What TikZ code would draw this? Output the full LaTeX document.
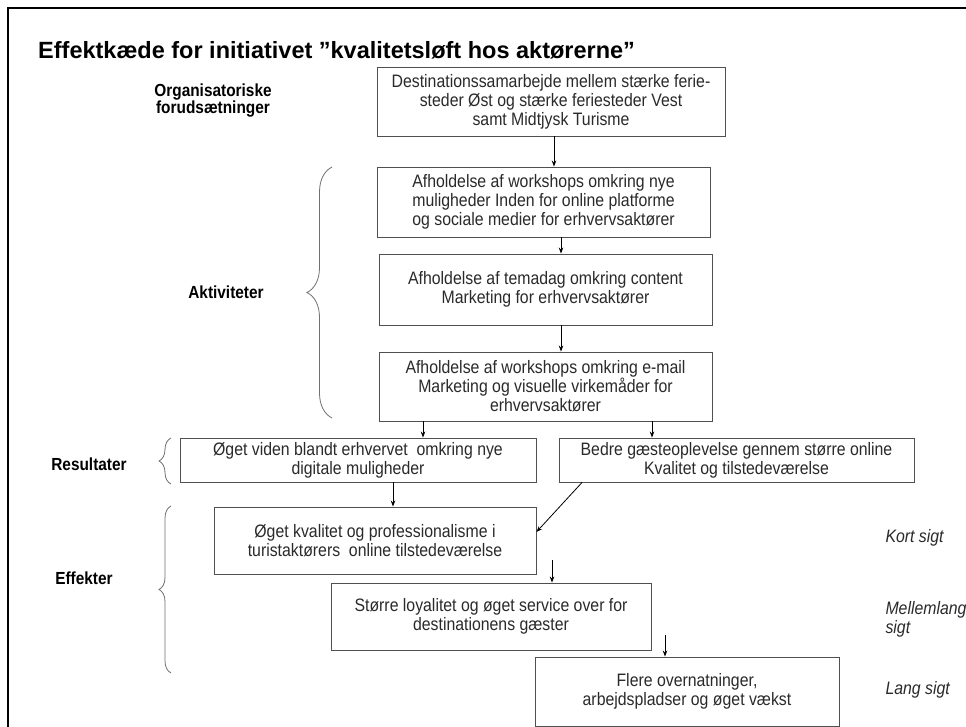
\documentclass[tikz,border=0pt]{standalone}
\usepackage{fontspec}
\setmainfont{Liberation Sans}
\newfontfamily\narrowfont[FakeStretch=0.88]{Liberation Sans}
\usetikzlibrary{arrows.meta,decorations.pathreplacing}
\definecolor{boxline}{HTML}{505050}
\definecolor{txt}{HTML}{2A2A2A}
\definecolor{bracec}{HTML}{707070}
\tikzset{
  box/.style={draw=boxline, line width=0.9pt, inner sep=0pt, align=center, text=txt,
              font=\narrowfont\fontsize{18}{19}\selectfont},
  arr/.style={-{Stealth[length=6pt,width=4.5pt]}, line width=0.8pt, black},
  lbl/.style={align=center, font=\narrowfont\fontsize{17.5}{17}\selectfont\bfseries, text=black},
  rlbl/.style={anchor=west, align=left, font=\narrowfont\fontsize{18}{19}\selectfont\itshape, text=txt},
  brc/.style={draw=bracec, line width=0.8pt, decorate},
}
\begin{document}
\begin{tikzpicture}[x=1pt,y=-1pt]
\useasboundingbox (0,0) rectangle (966,727);
\fill[white] (0,0) rectangle (966,727);
% frame
\draw[line width=2.8pt, black] (8,740) -- (8,8) -- (980,8);
% title
\node[anchor=base west, inner sep=0pt, font=\fontsize{23.5}{28}\selectfont\bfseries] (title) at (38,59)
  {Effektkæde for initiativet ”kvalitetsløft hos aktørerne”};

% boxes
\node[box, minimum width=348pt, minimum height=69pt] (b1) at (551,101.5)
  {Destinationssamarbejde mellem stærke ferie-\\steder Øst og stærke feriesteder Vest\\samt Midtjysk Turisme};
\node[box, minimum width=333pt, minimum height=70pt] (b2) at (543.5,202)
  {Afholdelse af workshops omkring nye\\muligheder Inden for online platforme\\og sociale medier for erhvervsaktører};
\node[box, minimum width=333pt, minimum height=71pt] (b3) at (545.5,289.5)
  {Afholdelse af temadag omkring content\\Marketing for erhvervsaktører};
\node[box, minimum width=333pt, minimum height=69pt] (b4) at (545.5,386.5)
  {Afholdelse af workshops omkring e-mail\\Marketing og visuelle virkemåder for\\erhvervsaktører};
\node[box, minimum width=356pt, minimum height=44pt] (b5) at (358,460)
  {Øget viden blandt erhvervet\ \ omkring nye\\digitale muligheder};
\node[box, minimum width=355pt, minimum height=44pt] (b6) at (736.5,460)
  {Bedre gæsteoplevelse gennem større online\\Kvalitet og tilstedeværelse};
\node[box, minimum width=322pt, minimum height=67pt] (b7) at (375,540.5)
  {Øget kvalitet og professionalisme i\\turistaktørers\ \ online tilstedeværelse};
\node[box, minimum width=320pt, minimum height=67pt] (b8) at (491,616.5)
  {Større loyalitet og øget service over for\\destinationens gæster};
\node[box, minimum width=304pt, minimum height=69pt] (b9) at (687,691.5)
  {Flere overnatninger,\\arbejdspladser og øget vækst};

% guide coordinates
\coordinate (g1) at (554,0);
\coordinate (g2) at (561,0);
\coordinate (g4a) at (423,0);
\coordinate (g4b) at (652,0);
\coordinate (g5) at (393,0);
\coordinate (s6) at (582,0);
\coordinate (s7) at (552,560);
\coordinate (s8) at (665,635);

% arrows
\draw[arr] (b1.south -| g1) -- (b2.north -| g1);
\draw[arr] (b2.south -| g2) -- (b3.north -| g2);
\draw[arr] (b3.south -| g2) -- (b4.north -| g2);
\draw[arr] (b4.south -| g4a) -- (b5.north -| g4a);
\draw[arr] (b4.south -| g4b) -- (b6.north -| g4b);
\draw[arr] (b5.south -| g5) -- (b7.north -| g5);
\draw[arr] (b6.south -| s6) -- ([yshift=8.5pt]b7.east);
\draw[arr] (s7) -- (b8.north -| s7);
\draw[arr] (s8) -- (b9.north -| s8);

% left labels
\node[lbl] (lorg) at (213,101) {Organisatoriske\\forudsætninger};
\node[lbl] (lakt) at (226,292) {Aktiviteter};
\node[lbl] (lres) at (89,464) {Resultater};
\node[lbl] (leff) at (84,578) {Effekter};

% braces
\draw[brc, decoration={brace, amplitude=25pt}] (332,418) -- (332,167);
\draw[brc, decoration={brace, amplitude=12pt}] (171,484) -- (171,438);
\draw[brc, decoration={brace, amplitude=12pt}] (171,673) -- (171,506);

% right labels
\node[rlbl] (rk) at (882,538) {Kort sigt};
\node[rlbl] (rm) at (882,619.5) {Mellemlang\\sigt};
\node[rlbl] (rl) at (882,690) {Lang sigt};
\end{tikzpicture}
\end{document}
